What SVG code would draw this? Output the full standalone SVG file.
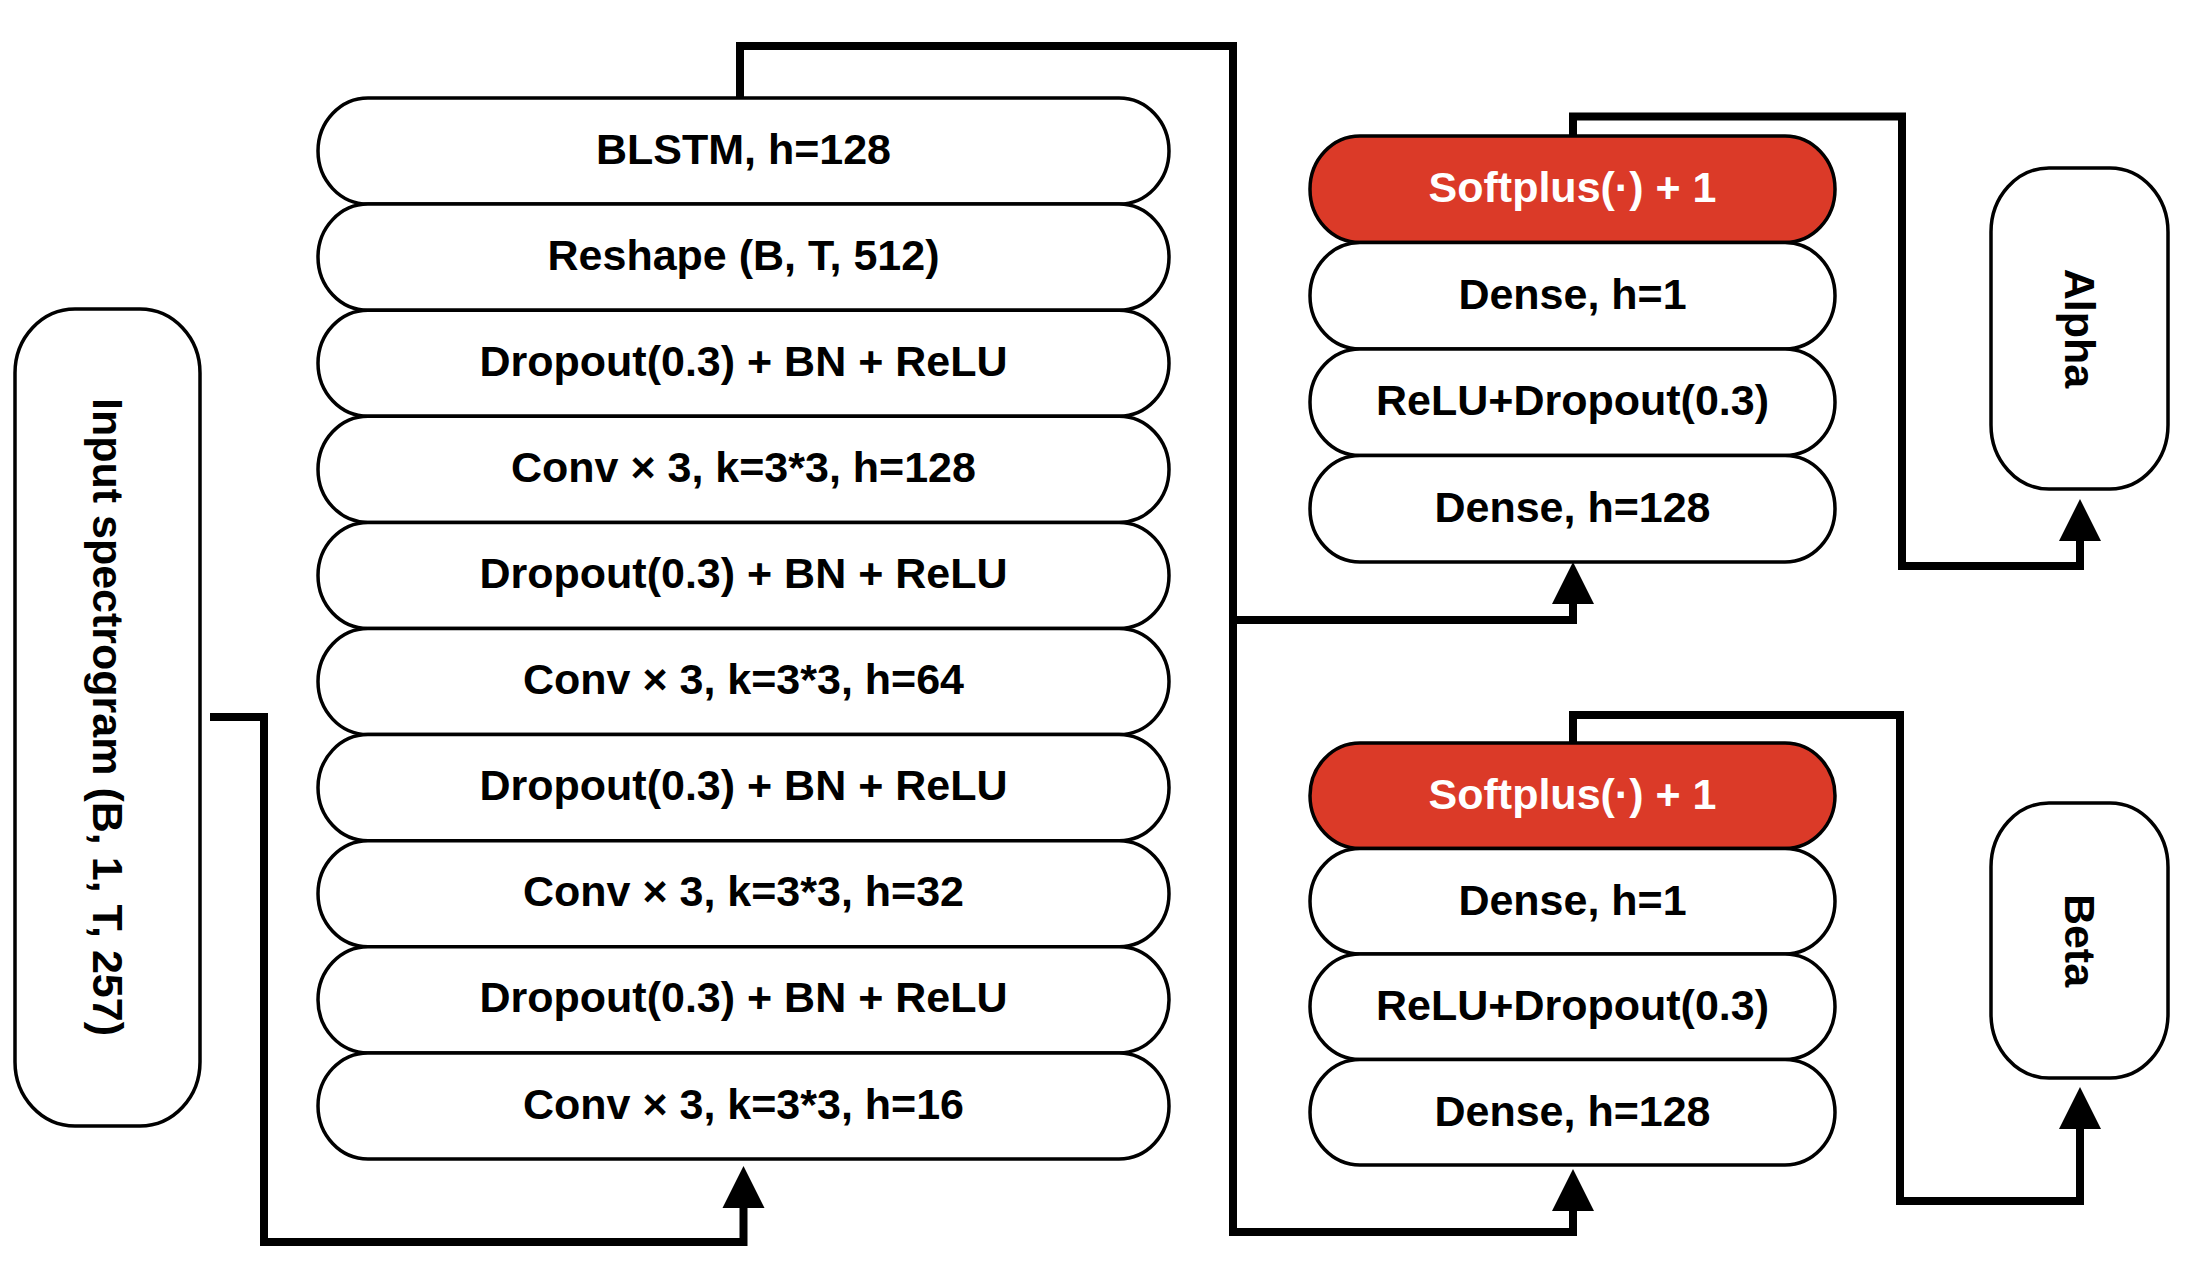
<svg xmlns="http://www.w3.org/2000/svg" width="2186" height="1268" viewBox="0 0 2186 1268">
<style>
.box{fill:#ffffff;stroke:#000000;stroke-width:3.5}
.red{fill:#DB3A28;stroke:#000000;stroke-width:3.5}
.tall{fill:#ffffff;stroke:#000000;stroke-width:3.5}
.t{font-family:"Liberation Sans",Arial,Helvetica,sans-serif;font-weight:bold;font-size:43px;fill:#000000;text-anchor:middle}
.tw{fill:#ffffff}
.conn{fill:none;stroke:#000000;stroke-width:8;stroke-linejoin:miter;stroke-linecap:butt}
</style>
<defs>
<marker id="arr" markerUnits="userSpaceOnUse" markerWidth="42" markerHeight="42" refX="0" refY="21" orient="auto" overflow="visible">
<path d="M0,0 L42,21 L0,42 Z" fill="#000000"/>
</marker>
</defs>
<rect width="2186" height="1268" fill="#ffffff"/>

<g id="input">
<rect class="tall" x="15" y="309" width="185" height="817" rx="60" ry="64"/>
<text class="t" transform="translate(107.5,717) rotate(90)" y="15">Input spectrogram (B, 1, T, 257)</text>
</g>

<g id="blstm"><rect class="box" x="318" y="98" width="851" height="106.1" rx="50" ry="53"/><text class="t" x="743.5" y="163.5">BLSTM, h=128</text></g>
<g id="reshape"><rect class="box" x="318" y="204.1" width="851" height="106.1" rx="50" ry="53"/><text class="t" x="743.5" y="269.6">Reshape (B, T, 512)</text></g>
<g id="drop1"><rect class="box" x="318" y="310.2" width="851" height="106.1" rx="50" ry="53"/><text class="t" x="743.5" y="375.7">Dropout(0.3) + BN + ReLU</text></g>
<g id="conv128"><rect class="box" x="318" y="416.3" width="851" height="106.1" rx="50" ry="53"/><text class="t" x="743.5" y="481.8">Conv × 3, k=3*3, h=128</text></g>
<g id="drop2"><rect class="box" x="318" y="522.4" width="851" height="106.1" rx="50" ry="53"/><text class="t" x="743.5" y="587.9">Dropout(0.3) + BN + ReLU</text></g>
<g id="conv64"><rect class="box" x="318" y="628.5" width="851" height="106.1" rx="50" ry="53"/><text class="t" x="743.5" y="694">Conv × 3, k=3*3, h=64</text></g>
<g id="drop3"><rect class="box" x="318" y="734.6" width="851" height="106.1" rx="50" ry="53"/><text class="t" x="743.5" y="800.1">Dropout(0.3) + BN + ReLU</text></g>
<g id="conv32"><rect class="box" x="318" y="840.7" width="851" height="106.1" rx="50" ry="53"/><text class="t" x="743.5" y="906.2">Conv × 3, k=3*3, h=32</text></g>
<g id="drop4"><rect class="box" x="318" y="946.8" width="851" height="106.1" rx="50" ry="53"/><text class="t" x="743.5" y="1012.3">Dropout(0.3) + BN + ReLU</text></g>
<g id="conv16"><rect class="box" x="318" y="1052.9" width="851" height="106.1" rx="50" ry="53"/><text class="t" x="743.5" y="1119.4">Conv × 3, k=3*3, h=16</text></g>

<g id="a_softplus"><rect class="red" x="1310" y="136" width="525" height="106.5" rx="50" ry="53"/><text class="t tw" x="1572.5" y="201.5">Softplus(·) + 1</text></g>
<g id="a_dense1"><rect class="box" x="1310" y="242.5" width="525" height="106.5" rx="50" ry="53"/><text class="t" x="1572.5" y="308.5">Dense, h=1</text></g>
<g id="a_relu"><rect class="box" x="1310" y="349" width="525" height="106.5" rx="50" ry="53"/><text class="t" x="1572.5" y="415">ReLU+Dropout(0.3)</text></g>
<g id="a_dense128"><rect class="box" x="1310" y="455.5" width="525" height="106.5" rx="50" ry="53"/><text class="t" x="1572.5" y="521.5">Dense, h=128</text></g>

<g id="b_softplus"><rect class="red" x="1310" y="743" width="525" height="105.5" rx="50" ry="52.7"/><text class="t tw" x="1572.5" y="809">Softplus(·) + 1</text></g>
<g id="b_dense1"><rect class="box" x="1310" y="848.5" width="525" height="105.5" rx="50" ry="52.7"/><text class="t" x="1572.5" y="914.5">Dense, h=1</text></g>
<g id="b_relu"><rect class="box" x="1310" y="954" width="525" height="105.5" rx="50" ry="52.7"/><text class="t" x="1572.5" y="1020">ReLU+Dropout(0.3)</text></g>
<g id="b_dense128"><rect class="box" x="1310" y="1059.5" width="525" height="105.5" rx="50" ry="52.7"/><text class="t" x="1572.5" y="1125.5">Dense, h=128</text></g>

<g id="alpha">
<rect class="tall" x="1991" y="168" width="177" height="321" rx="58" ry="64"/>
<text class="t" transform="translate(2079.5,328.5) rotate(90)" y="15">Alpha</text>
</g>
<g id="beta">
<rect class="tall" x="1991" y="803" width="177" height="275" rx="58" ry="64"/>
<text class="t" transform="translate(2079.5,940.5) rotate(90)" y="15">Beta</text>
</g>

<g id="connectors">
<path class="conn" d="M210,717 H264 V1242 H743.5 V1208" marker-end="url(#arr)"/>
<path class="conn" d="M740,98 V46 H1233 V1232 H1573 V1211" marker-end="url(#arr)"/>
<path class="conn" d="M1233,620 H1573 V604" marker-end="url(#arr)"/>
<path class="conn" d="M1573,136 V116.5 H1902 V566 H2080 V541" marker-end="url(#arr)"/>
<path class="conn" d="M1573,743 V715 H1900 V1201 H2080 V1129" marker-end="url(#arr)"/>
</g>
</svg>
